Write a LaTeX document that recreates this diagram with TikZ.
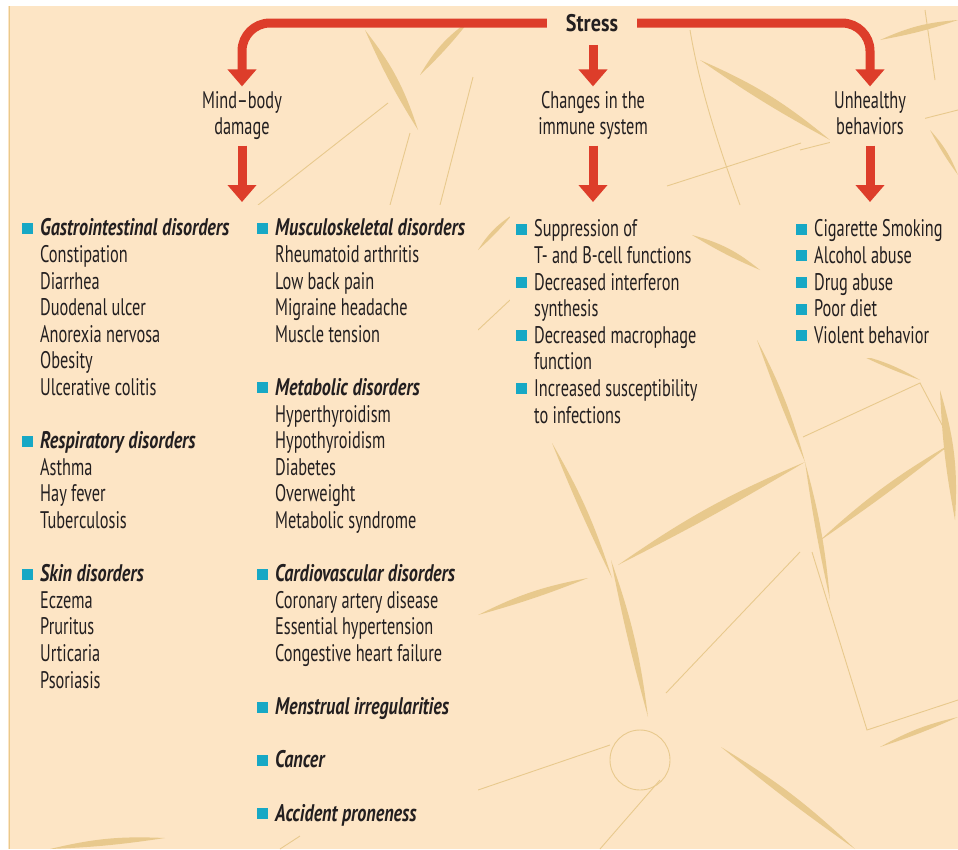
\documentclass[tikz,border=0pt]{standalone}
\usepackage{fontspec}
\setmainfont{PT Sans}[FakeStretch=0.68, BoldFeatures={FakeStretch=0.84}, BoldItalicFeatures={FakeStretch=0.755}]
\usetikzlibrary{arrows.meta}
\definecolor{bgpeach}{HTML}{FDE5C5}
\definecolor{sketch}{HTML}{E8C98D}
\definecolor{stressred}{HTML}{DD3D2A}
\definecolor{bulletcyan}{HTML}{17A8C5}
\definecolor{ink}{HTML}{231F20}
\newcommand\sq{\llap{\textcolor{bulletcyan}{\rule[2pt]{11pt}{11pt}}\hspace{7pt}}\strut}
\newcommand\hd[1]{\sq\textbf{\textit{#1}}}
\begin{document}
\begin{tikzpicture}[x=1pt,y=-1pt,
    lst/.style={font=\fontsize{24}{26.6}\selectfont, text=ink},
    lbl/.style={lst, align=center, inner sep=0pt, outer ysep=3pt},
    grp/.style={lst, align=left, anchor=north west, inner sep=0pt},
    arr/.style={draw=stressred, line width=9pt, -{Triangle[width=28pt,length=17pt]}},
    sliver/.style={fill=sketch},
    crack/.style={draw=sketch, line width=0.9pt}]
  \useasboundingbox (0,0) rectangle (958,849);
  \fill[white] (0,0) rectangle (958,849);
  \fill[bgpeach] (8,6) rectangle (958,849);
  % background sketch
  \draw[crack, line width=0.6pt] (9,6) -- (9,849);
  \draw[crack] (258,205) -- (388,103);
  \fill[sliver] (365,30) to[bend left=10] (418,130) to[bend left=4] (365,30);
  \draw[crack] (410,133) -- (390,205);
  \draw[crack] (440,205) -- (473,77);
  \fill[sliver] (420,75) to[bend left=12] (470,20) to[bend left=4] (420,75);
  \draw[crack] (690,30) .. controls (700,90) and (720,150) .. (740,205);
  \fill[sliver] (700,60) to[bend left=8] (830,140) to[bend left=3] (700,60);
  \draw[crack] (667,186) -- (801,143);
  \draw[crack] (800,150) -- (958,110);
  \fill[sliver] (880,40) to[bend left=10] (958,20) to[bend left=4] (880,40);
  \draw[crack] (925,10) -- (935,80);
  \fill[sliver] (930,130) to[bend left=10] (958,175) to[bend left=4] (930,130);
  \fill[sliver] (478,250) to[bend left=12] (512,215) to[bend left=4] (478,250);
  \draw[crack] (478,330) -- (510,300);
  \fill[sliver] (692,235) to[bend left=12] (760,270) to[bend left=4] (692,235);
  \fill[sliver] (757,340) to[bend left=6] (805,462) to[bend left=2] (757,340);
  \fill[sliver] (805,462) to[bend left=5] (830,600) to[bend left=2] (805,462);
  \fill[sliver] (618,565) to[bend left=6] (805,462) to[bend left=2] (618,565);
  \fill[sliver] (552,443) to[bend left=6] (612,578) to[bend left=2] (552,443);
  \draw[crack] (803,437) -- (920,383) -- (950,440);
  \fill[sliver] (818,542) to[bend left=6] (952,443) to[bend left=2] (818,542);
  \fill[sliver] (860,355) to[bend left=8] (920,380) to[bend left=3] (860,355);
  \fill[sliver] (940,390) to[bend left=10] (955,520) to[bend left=4] (940,390);
  \fill[sliver] (611,560) to[bend left=6] (648,717) to[bend left=2] (611,560);
  \draw[crack] (666,693) -- (800,552);
  \draw[crack] (812,552) -- (867,730) -- (958,700);
  \fill[sliver] (721,747) to[bend left=6] (855,849) to[bend left=2] (721,747);
  \draw[crack] (640,760) circle[radius=30pt];
  \fill[sliver] (880,747) to[bend left=8] (958,717) to[bend left=3] (880,747);
  \fill[sliver] (478,615) to[bend left=8] (588,578) to[bend left=3] (478,615);
  \draw[crack] (478,790) -- (610,745);
  \draw[crack] (660,780) -- (600,849);
  \fill[sliver] (50,849) to[bend left=8] (165,838) to[bend left=3] (50,849);
  \draw[crack] (280,849) -- (300,836);
  % plain panels under the text
  \fill[bgpeach] (10,205) rectangle (478,835);
  \fill[bgpeach] (510,208) rectangle (692,430);
  \fill[bgpeach] (520,84) rectangle (688,146);
  \fill[bgpeach] (830,80) rectangle (925,146);
  \fill[bgpeach] (790,206) rectangle (950,358);
  % headings
  \node[lst, font=\fontsize{24}{26.6}\selectfont\bfseries, inner xsep=19pt, inner ysep=13pt] (stress) at (592,23) {Stress};
  \node[lbl] (mind) at (242,116) {\strut Mind–body\\damage\strut};
  \node[lbl] (immune) at (593,116) {\strut Changes in the\\immune system\strut};
  \node[lbl] (unhealthy) at (870,116) {\strut Unhealthy\\behaviors\strut};
  \coordinate (mindend) at (242,202);
  \coordinate (immuneend) at (593,202);
  \coordinate (unhealthyend) at (870,202);
  % lists
  \node[grp] (gastro) at (40,217) {\hd{Gastrointestinal disorders}\\Constipation\\Diarrhea\\Duodenal ulcer\\Anorexia nervosa\\Obesity\\Ulcerative colitis};
  \node[grp] (resp) at (40,429.8) {\hd{Respiratory disorders}\\Asthma\\Hay fever\\Tuberculosis};
  \node[grp] (skin) at (40,562.8) {\hd{Skin disorders}\\Eczema\\Pruritus\\Urticaria\\Psoriasis};
  \node[grp] (musculo) at (275,217) {\hd{Musculoskeletal disorders}\\Rheumatoid arthritis\\Low back pain\\Migraine headache\\Muscle tension};
  \node[grp] (metab) at (275,376.6) {\hd{Metabolic disorders}\\Hyperthyroidism\\Hypothyroidism\\Diabetes\\Overweight\\Metabolic syndrome};
  \node[grp] (cardio) at (275,562.8) {\hd{Cardiovascular disorders}\\Coronary artery disease\\Essential hypertension\\Congestive heart failure};
  \node[grp] (menstr) at (275,695.8) {\hd{Menstrual irregularities}};
  \node[grp] (cancer) at (275,749) {\hd{Cancer}};
  \node[grp] (accident) at (275,802.2) {\hd{Accident proneness}};
  \node[grp] (immlist) at (534,218) {\sq Suppression of\\T- and B-cell functions\\\sq Decreased interferon\\synthesis\\\sq Decreased macrophage\\function\\\sq Increased susceptibility\\to infections};
  \node[grp] (behav) at (814,218) {\sq Cigarette Smoking\\\sq Alcohol abuse\\\sq Drug abuse\\\sq Poor diet\\\sq Violent behavior};
  % arrows
  \draw[arr, rounded corners=28pt] (stress.west) -| (mind.north);
  \draw[arr, rounded corners=28pt] (stress.east) -| (unhealthy.north);
  \draw[arr] (stress.south -| immune.north) -- (immune.north);
  \draw[arr] (mind.south) -- (mindend);
  \draw[arr] (immune.south) -- (immuneend);
  \draw[arr] (unhealthy.south) -- (unhealthyend);
\end{tikzpicture}
\end{document}
